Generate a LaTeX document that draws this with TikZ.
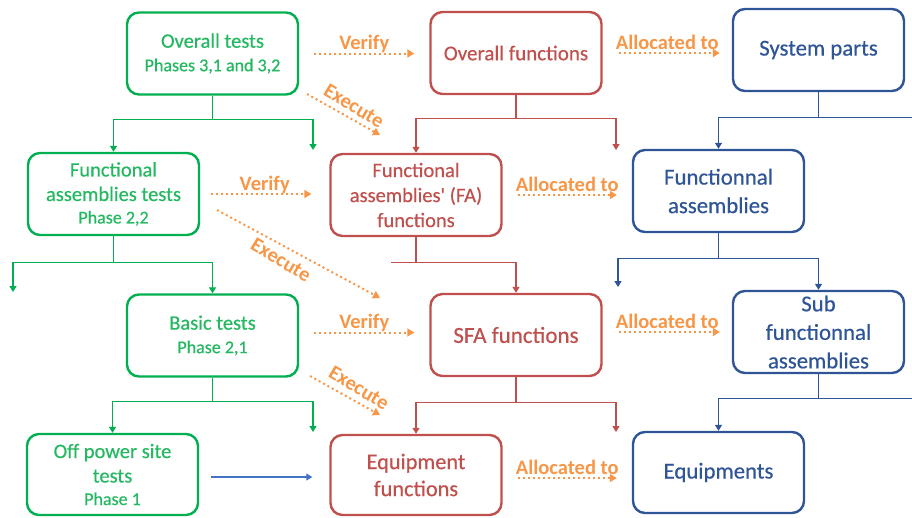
\documentclass[tikz,border=0pt]{standalone}
\usepackage{fontspec}
\setmainfont{Carlito}
\newfontfamily\medfont{Carlito}[FakeBold=0.5]
\usetikzlibrary{arrows.meta}
\definecolor{gbord}{RGB}{0,176,80}
\definecolor{gtext}{RGB}{36,184,96}
\definecolor{rbord}{RGB}{192,80,77}
\definecolor{bbord}{RGB}{47,85,151}
\definecolor{orng}{RGB}{247,150,70}
\definecolor{lblue}{RGB}{68,114,196}
\tikzset{
 box/.style={draw, rounded corners=12pt, line width=2.4pt, minimum width=171pt, minimum height=82pt, align=center, inner sep=0pt},
 gbox/.style={box, draw=gbord, text=gtext, font=\medfont\fontsize{20.5}{24.5}\selectfont},
 rbox/.style={box, draw=rbord, text=rbord, font=\medfont\fontsize{21}{26.5}\selectfont},
 bbox/.style={box, draw=bbord, text=bbord, font=\medfont\fontsize{22.8}{28.5}\selectfont},
 tip/.style={-{Triangle[width=7pt,length=6pt]}},
 gcon/.style={draw=gbord, line width=1.3pt},
 rcon/.style={draw=rbord, line width=1.3pt},
 bcon/.style={draw=bbord, line width=1.3pt},
 lbcon/.style={draw=lblue, line width=1.3pt},
 orarrow/.style={draw=orng, line width=2pt, dash pattern=on 2pt off 3pt, -{Triangle[width=8pt,length=7pt]}},
 lbl/.style={text=orng, font=\bfseries\fontsize{20.5}{23}\selectfont, inner sep=0pt}
}
\newcommand{\subtxt}[1]{{\fontsize{18}{22}\selectfont #1}}
\begin{document}
\begin{tikzpicture}[x=1pt,y=-1pt]
\useasboundingbox (0,0) rectangle (912,517);
% green boxes
\node[gbox] (ot) at (212.5,53.5) {Overall tests\\[-1pt]\subtxt{Phases 3,1 and 3,2}};
\node[gbox] (fat) at (113.5,194) {Functional\\assemblies tests\\[-2pt]\subtxt{Phase 2,2}};
\node[gbox] (bt) at (212.5,335.5) {Basic tests\\[-1pt]\subtxt{Phase 2,1}};
\node[gbox, minimum height=81pt] (opt) at (112.5,474.5) {Off power site\\tests\\[-2pt]\subtxt{Phase 1}};
% red boxes
\node[rbox] (of) at (516,53) {Overall functions};
\node[rbox, font=\medfont\fontsize{20.5}{25}\selectfont] (faf) at (416,195) {Functional\\assemblies' (FA)\\functions};
\node[rbox, font=\medfont\fontsize{23}{27}\selectfont] (sfa) at (516,335) {SFA functions};
\node[rbox, minimum height=80pt, font=\medfont\fontsize{22.3}{27}\selectfont] (ef) at (416,475) {Equipment\\functions};
% blue boxes
\node[bbox] (sp) at (818.5,50) {System parts};
\node[bbox] (fa) at (718.5,191) {Functionnal\\assemblies};
\node[bbox] (sfas) at (818.5,332) {Sub\\functionnal\\assemblies};
\node[bbox, minimum height=81pt] (eq) at (718.5,472.5) {Equipments};
% green tree
\draw[gcon] (ot.south) -- ++(0,24) coordinate (gj1);
\coordinate (gf1) at (313,150);
\draw[gcon,tip] (gj1) -| (fat.north);
\draw[gcon,tip] (gj1) -| (gf1);
\draw[gcon] (fat.south) -- ++(0,26) coordinate (gj2);
\coordinate (gf2) at (13,292);
\draw[gcon,tip] (gj2) -| (gf2);
\draw[gcon,tip] (gj2) -| (bt.north);
\draw[gcon] (bt.south) -- ++(0,24) coordinate (gj3);
\coordinate (gf3) at (313,432);
\draw[gcon,tip] (gj3) -| (opt.north);
\draw[gcon,tip] (gj3) -| (gf3);
% red tree
\draw[rcon] (of.south) -- ++(0,23) coordinate (rj1);
\coordinate (rf1) at (616,150);
\draw[rcon,tip] (rj1) -| (faf.north);
\draw[rcon,tip] (rj1) -| (rf1);
\draw[rcon] (faf.south) -- ++(0,25) coordinate (rj2);
\coordinate (rs2) at (391,262);
\draw[rcon] (rj2) -- (rj2 -| rs2);
\draw[rcon,tip] (rj2) -| (sfa.north);
\draw[rcon] (sfa.south) -- ++(0,25) coordinate (rj3);
\coordinate (rf3) at (616,432);
\draw[rcon,tip] (rj3) -| (ef.north);
\draw[rcon,tip] (rj3) -| (rf3);
% blue tree
\draw[bcon] (sp.south) -- ++(0,25) coordinate (bj1);
\coordinate (be1) at (912,117);
\draw[bcon] (bj1) -- (bj1 -| be1);
\draw[bcon,tip] (bj1) -| (fa.north);
\draw[bcon] (fa.south) -- ++(0,25) coordinate (bj2);
\coordinate (bf2) at (618,287);
\draw[bcon,tip] (bj2) -| (bf2);
\draw[bcon,tip] (bj2) -| (sfas.north);
\draw[bcon] (sfas.south) -- ++(0,24) coordinate (bj3);
\coordinate (be3) at (912,398);
\draw[bcon] (bj3) -- (bj3 -| be3);
\draw[bcon,tip] (bj3) -| (eq.north);
% off power -> equipment functions
\draw[lbcon,tip,shorten <=12pt,shorten >=17pt] ([yshift=-2.5pt]opt.east) -- ([yshift=-2.5pt]opt.east -| ef.west);
% verify
\draw[orarrow,shorten <=15pt,shorten >=15pt] (ot.east) -- (ot.east -| of.west) node[lbl,midway,anchor=base,yshift=4pt] {Verify};
\draw[orarrow,shorten <=11pt,shorten >=18pt] (fat.east) -- (fat.east -| faf.west) node[lbl,midway,anchor=base,yshift=4pt] {Verify};
\draw[orarrow,shorten <=15pt,shorten >=15pt] ([yshift=3pt]bt.east) -- ([yshift=3pt]bt.east -| sfa.west) node[lbl,midway,anchor=base,yshift=4pt] {Verify};
% allocated
\draw[orarrow,shorten <=16pt,shorten >=12pt] (of.east) -- (of.east -| sp.west) node[lbl,midway,anchor=base,yshift=4pt] {Allocated to};
\draw[orarrow,shorten <=15pt,shorten >=15pt] (faf.east) -- (faf.east -| fa.west) node[lbl,midway,anchor=base,yshift=4pt] {Allocated to};
\draw[orarrow,shorten <=16pt,shorten >=12pt] ([yshift=3pt]sfa.east) -- ([yshift=3pt]sfa.east -| sfas.west) node[lbl,midway,anchor=base,yshift=4pt] {Allocated to};
\draw[orarrow,shorten <=15pt,shorten >=15pt] ([yshift=-3pt]ef.east) -- ([yshift=-3pt]ef.east -| eq.west) node[lbl,midway,anchor=base,yshift=4pt] {Allocated to};
% execute
\coordinate (x1s) at (307,94); \coordinate (x1e) at (380,135);
\draw[orarrow] (x1s) -- (x1e);
\node[lbl,rotate=-31] (x1l) at (354,106) {Execute};
\coordinate (x2s) at (217,210); \coordinate (x2e) at (380,298);
\draw[orarrow] (x2s) -- (x2e);
\node[lbl,rotate=-31] (x2l) at (281,260) {Execute};
\coordinate (x3s) at (310,376); \coordinate (x3e) at (380,415);
\draw[orarrow] (x3s) -- (x3e);
\node[lbl,rotate=-31] (x3l) at (359,388) {Execute};
\end{tikzpicture}
\end{document}
